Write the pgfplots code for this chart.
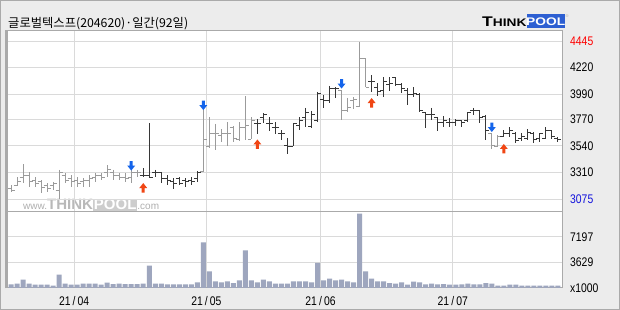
\documentclass[border=0pt]{standalone}
\usepackage{fontspec}
\setmainfont{Liberation Sans}
\newfontfamily\tlfont[FakeStretch=0.83]{Liberation Sans}
\newfontfamily\logofont[FakeStretch=1.25]{Liberation Sans}
\newfontfamily\cjk{Noto Sans CJK KR}
\usepackage{pgfplots}
\pgfplotsset{compat=1.18}
\usepackage{pgfplotstable}
\newcommand\tlf{\tlfont\fontsize{12.5}{13}\selectfont}

\definecolor{bgc}{RGB}{236,236,236}
\definecolor{gridc}{RGB}{218,218,218}
\definecolor{framec}{RGB}{170,170,170}
\definecolor{barg}{RGB}{155,155,155}
\definecolor{bard}{RGB}{55,55,55}
\definecolor{volc}{RGB}{158,166,190}
\definecolor{arrB}{RGB}{20,100,235}
\definecolor{arrR}{RGB}{240,70,20}
\definecolor{logob}{RGB}{45,95,210}
\definecolor{lblue}{RGB}{20,20,220}
\definecolor{lred}{RGB}{255,0,0}
\definecolor{wm}{RGB}{185,185,185}
\definecolor{wmt}{RGB}{175,175,175}
\definecolor{wmb}{RGB}{205,205,205}

\pgfdeclareplotmark{otick}{\pgfpathmoveto{\pgfqpoint{-3.5pt}{0pt}}\pgfpathlineto{\pgfqpoint{0pt}{0pt}}\pgfusepathqstroke}
\pgfdeclareplotmark{ctick}{\pgfpathmoveto{\pgfqpoint{0pt}{0pt}}\pgfpathlineto{\pgfqpoint{3.5pt}{0pt}}\pgfusepathqstroke}
\pgfdeclareplotmark{darr}{%
 \pgfpathmoveto{\pgfqpoint{-1.5pt}{5pt}}%
 \pgfpathlineto{\pgfqpoint{1.5pt}{5pt}}%
 \pgfpathlineto{\pgfqpoint{1.5pt}{0.5pt}}%
 \pgfpathlineto{\pgfqpoint{4pt}{0.5pt}}%
 \pgfpathlineto{\pgfqpoint{0pt}{-4.5pt}}%
 \pgfpathlineto{\pgfqpoint{-4pt}{0.5pt}}%
 \pgfpathlineto{\pgfqpoint{-1.5pt}{0.5pt}}%
 \pgfpathclose\pgfusepathqfill}
\pgfdeclareplotmark{uarr}{%
 \pgfpathmoveto{\pgfqpoint{-1.5pt}{-5pt}}%
 \pgfpathlineto{\pgfqpoint{1.5pt}{-5pt}}%
 \pgfpathlineto{\pgfqpoint{1.5pt}{-0.5pt}}%
 \pgfpathlineto{\pgfqpoint{4pt}{-0.5pt}}%
 \pgfpathlineto{\pgfqpoint{0pt}{4.5pt}}%
 \pgfpathlineto{\pgfqpoint{-4pt}{-0.5pt}}%
 \pgfpathlineto{\pgfqpoint{-1.5pt}{-0.5pt}}%
 \pgfpathclose\pgfusepathqfill}

\pgfplotstableread{
x o h l c
0 3173 3199 3138 3156
1 3199 3269 3191 3234
2 3269 3382 3217 3286
3 3286 3312 3182 3226
4 3243 3269 3182 3217
5 3226 3243 3130 3182
6 3199 3217 3138 3173
7 3199 3226 3156 3217
8 3156 3330 3075 3312
9 3286 3304 3217 3243
10 3260 3286 3182 3226
11 3243 3269 3182 3217
12 3226 3260 3182 3243
13 3243 3286 3182 3260
14 3269 3304 3226 3286
15 3286 3304 3243 3269
16 3312 3373 3269 3330
17 3312 3330 3243 3286
18 3286 3304 3243 3269
19 3269 3304 3226 3260
20 3269 3330 3217 3312
21 3304 3330 3269 3312
32 3321 3851 3312 3599
33 3530 3790 3521 3651
34 3651 3730 3504 3651
35 3634 3686 3573 3651
36 3651 3747 3538 3651
37 3695 3712 3573 3608
38 3599 3747 3582 3695
39 3695 3973 3590 3721
40 3599 3790 3599 3764
55 4025 4025 3764 3851
56 3851 3956 3834 3869
57 3938 3964 3860 3947
58 3886 4445 3877 4303
59 4295 4295 4051 4051
80 3643 3651 3512 3547
81 3538 3634 3538 3625
}\grayD

\pgfplotstableread{
x o h l c
22 3286 3347 3269 3286
23 3278 3738 3260 3269
24 3312 3330 3269 3312
25 3312 3312 3217 3260
26 3260 3286 3199 3243
27 3226 3260 3165 3217
28 3260 3269 3199 3217
29 3243 3260 3182 3226
30 3243 3269 3199 3234
31 3260 3321 3226 3304
41 3738 3773 3643 3738
42 3790 3825 3738 3816
43 3738 3790 3669 3738
44 3703 3747 3643 3695
45 3643 3677 3590 3643
46 3547 3608 3469 3538
47 3538 3738 3538 3730
48 3721 3790 3677 3764
49 3782 3869 3703 3834
50 3712 3843 3695 3816
51 3756 4008 3747 3999
52 3947 3982 3869 3938
53 3938 4060 3912 4042
54 4034 4051 3956 4034
60 4095 4155 4008 4095
61 4051 4086 3973 4008
62 4025 4138 3964 4095
63 4069 4138 4016 4086
64 4138 4138 4060 4069
65 4069 4086 3999 4042
66 4025 4042 3895 3982
67 3982 4051 3964 3999
68 3990 3999 3834 3843
69 3834 3834 3695 3808
70 3808 3869 3764 3808
71 3782 3790 3669 3747
72 3747 3799 3703 3756
73 3747 3782 3703 3747
74 3747 3773 3712 3756
75 3756 3764 3703 3747
76 3764 3834 3747 3834
77 3843 3869 3808 3843
78 3843 3851 3738 3782
79 3799 3808 3590 3669
82 3625 3677 3617 3643
83 3651 3703 3617 3677
84 3651 3660 3564 3590
85 3608 3651 3582 3617
86 3608 3686 3590 3660
87 3651 3660 3564 3599
88 3608 3651 3573 3651
89 3608 3703 3599 3677
90 3669 3677 3599 3617
91 3608 3617 3573 3599
}\darkD

\pgfplotstableread{
x y
20 3364
32 3890
55 4077
80 3699
}\arrD

\pgfplotstableread{
x y
22 3177
41 3556
60 3916
82 3517
}\arrU

\pgfplotstableread{
x v
0 520
1 610
2 1180
3 610
4 470
5 470
6 470
7 330
8 1880
9 610
10 470
11 470
12 610
13 610
14 610
15 470
16 750
17 560
18 610
19 560
20 560
21 560
22 610
23 3150
24 610
25 610
26 520
27 520
28 520
29 520
30 520
31 800
32 6440
33 2350
34 940
35 800
36 940
37 700
38 1080
39 5310
40 1080
41 800
42 1180
43 940
44 610
45 610
46 610
47 940
48 940
49 940
50 800
51 3530
52 1080
53 1320
54 1080
55 1180
56 940
57 800
58 10480
59 2350
60 1320
61 940
62 940
63 700
64 610
65 800
66 470
67 890
68 800
69 520
70 610
71 520
72 560
73 470
74 470
75 520
76 610
77 520
78 520
79 700
80 610
81 330
82 330
83 470
84 470
85 330
86 330
87 330
88 330
89 330
90 330
91 330
}\volD

\begin{document}
\begin{tikzpicture}[x=1pt,y=1pt]
% background
\fill[bgc] (0,0) rectangle (620,310);
\draw[framec, line width=1pt] (0.5,0.5) rectangle (619.5,309.5);
\fill[white] (7,22) rectangle (562,279);
\draw[framec, line width=2pt] (6,21.5) -- (6,279.5);
% title
\node[anchor=base west, inner sep=0pt] at (8,282) {\cjk\fontsize{12.3}{14}\selectfont 글로벌텍스프(204620)·일간(92일)};
% logo
\node[anchor=base west, inner sep=0pt] at (482,283) {\logofont\bfseries\fontsize{14}{14}\selectfont T\fontsize{11}{11}\selectfont HINK};
\fill[logob] (527,281.5) rectangle (564.5,295.5);
\node[anchor=base, inner sep=0pt, text=white] at (545.7,284.5) {\logofont\bfseries\fontsize{11}{11}\selectfont POOL};
\node[anchor=base west, inner sep=0pt, text=framec] at (565.5,292) {\fontsize{4}{4}\selectfont ®};
% watermark
\node[anchor=base west, inner sep=0pt] at (23,100) {\fontsize{10}{12}\selectfont\color{wmt}www.\fontsize{15}{15}\selectfont\bfseries\color{wm}THINK{\setlength{\fboxsep}{1pt}\colorbox{wmb}{\color{white}POOL}}\mdseries\fontsize{10}{12}\selectfont\color{wmt}.com};

% price panel
\begin{axis}[at={(7pt,98pt)}, anchor=south west, scale only axis,
  width=555pt, height=181pt,
  xmin=-0.67, xmax=91.68, ymin=2965, ymax=4538,
  axis line style={draw=framec, line width=1pt},
  xtick={10.5,32.5,51.5,73.5}, xticklabels={}, xmajorgrids,
  ytick={3075,3310,3540,3770,3990,4220,4445},
  yticklabels={{\color{lblue}3075},3310,3540,3770,3990,4220,{\color{lred}4445}},
  ymajorgrids, grid style={draw=gridc, line width=1pt},
  yticklabel pos=right, major tick length=0pt, tick style={draw=none},
  yticklabel style={anchor=west, inner sep=0pt, xshift=8pt, font=\tlf},
  scaled y ticks=false, clip=false]
\addplot[draw=none, mark=none, error bars/.cd, y dir=minus, y explicit, error mark=none,
  error bar style={draw=barg, line width=1pt}]
  table[x=x, y=h, y error expr=\thisrow{h}-\thisrow{l}] {\grayD};
\addplot[only marks, mark=otick, mark options={draw=barg, line width=1pt}] table[x=x, y=o] {\grayD};
\addplot[only marks, mark=ctick, mark options={draw=barg, line width=1pt}] table[x=x, y=c] {\grayD};
\addplot[draw=none, mark=none, error bars/.cd, y dir=minus, y explicit, error mark=none,
  error bar style={draw=bard, line width=1pt}]
  table[x=x, y=h, y error expr=\thisrow{h}-\thisrow{l}] {\darkD};
\addplot[only marks, mark=otick, mark options={draw=bard, line width=1pt}] table[x=x, y=o] {\darkD};
\addplot[only marks, mark=ctick, mark options={draw=bard, line width=1pt}] table[x=x, y=c] {\darkD};
\addplot[only marks, mark=darr, mark options={fill=arrB, draw=none}] table[x=x, y=y] {\arrD};
\addplot[only marks, mark=uarr, mark options={fill=arrR, draw=none}] table[x=x, y=y] {\arrU};
\end{axis}

% volume panel
\begin{axis}[at={(7pt,22pt)}, anchor=south west, scale only axis,
  width=555pt, height=76pt,
  xmin=-0.67, xmax=91.68, ymin=0, ymax=10716,
  axis line style={draw=framec, line width=1pt},
  xtick={10.5,32.5,51.5,73.5},
  xticklabels={21\,/\,04,21\,/\,05,21\,/\,06,21\,/\,07},
  xmajorgrids, ymajorgrids, grid style={draw=gridc, line width=1pt},
  ytick={0,3629,7197}, yticklabels={x1000,3629,7197},
  scaled y ticks=false,
  yticklabel pos=right, major tick length=0pt, tick style={draw=none},
  yticklabel style={anchor=west, inner sep=0pt, xshift=8pt, font=\tlf},
  xticklabel style={anchor=north, inner sep=0pt, yshift=-8pt, font=\tlf}]
\addplot[ybar, bar width=5pt, bar shift=0pt, fill=volc, draw=none] table[x=x, y=v] {\volD};
\end{axis}
\end{tikzpicture}
\end{document}
